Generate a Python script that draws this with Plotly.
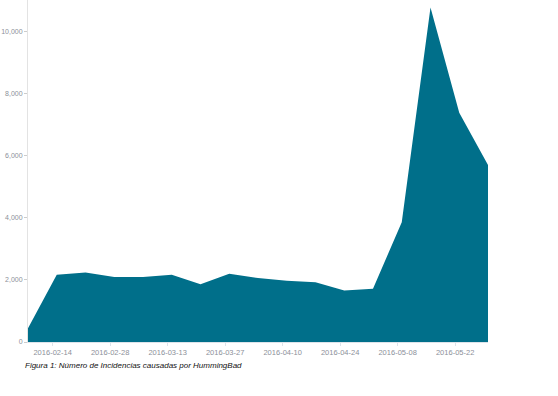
import plotly.graph_objects as go

dates = ["2016-02-08", "2016-02-15", "2016-02-22", "2016-02-29", "2016-03-07",
         "2016-03-14", "2016-03-21", "2016-03-28", "2016-04-04", "2016-04-11",
         "2016-04-18", "2016-04-25", "2016-05-02", "2016-05-09", "2016-05-16",
         "2016-05-23", "2016-05-30"]
incidencias = [440, 2160, 2235, 2090, 2090, 2160, 1860, 2195, 2055, 1970,
               1925, 1655, 1715, 3850, 10760, 7375, 5690]
xtick_vals = ["2016-02-14", "2016-02-28", "2016-03-13", "2016-03-27",
              "2016-04-10", "2016-04-24", "2016-05-08", "2016-05-22"]
ytick_vals = [0, 2000, 4000, 6000, 8000, 10000]
caption = "Figura 1: Número de Incidencias causadas por HummingBad"

fig = go.Figure()
fig.add_trace(go.Scatter(
    x=dates, y=incidencias, mode="lines", fill="tozeroy",
    line=dict(width=0, color="#006F8A"), fillcolor="#006F8A",
    hoverinfo="x+y", showlegend=False,
))

tick_font = dict(family="Liberation Sans, Arial, sans-serif", size=7.5, color="#8c9099")
ytick_font = dict(family="Liberation Sans, Arial, sans-serif", size=7, color="#8c9099")
fig.update_layout(
    width=558, height=396,
    margin=dict(l=28, r=70, t=0, b=54),
    plot_bgcolor="white", paper_bgcolor="white",
    xaxis=dict(
        type="date", range=[dates[0], dates[-1]], automargin=False,
        tickvals=xtick_vals, ticktext=xtick_vals,
        showgrid=False, zeroline=False,
        showline=True, linecolor="#dde3ea", linewidth=1,
        ticks="outside", ticklen=3, tickcolor="#dde3ea",
        tickfont=tick_font,
    ),
    yaxis=dict(
        range=[0, 11000], tickvals=ytick_vals, tickformat=",d", automargin=False,
        showgrid=False, zeroline=False,
        showline=True, linecolor="#e3e3e3", linewidth=1,
        ticks="outside", ticklen=3, tickcolor="#cccccc",
        tickfont=ytick_font,
    ),
    annotations=[dict(
        text="<i>" + caption + "</i>", xref="paper", yref="paper",
        x=-0.01, y=-0.05, xanchor="left", yanchor="top", showarrow=False,
        font=dict(family="Liberation Sans, Arial, sans-serif", size=8, color="#111111"),
    )],
)

fig.write_html("out.html", config={"displayModeBar": False},
               post_script="document.body.style.margin='0';")
